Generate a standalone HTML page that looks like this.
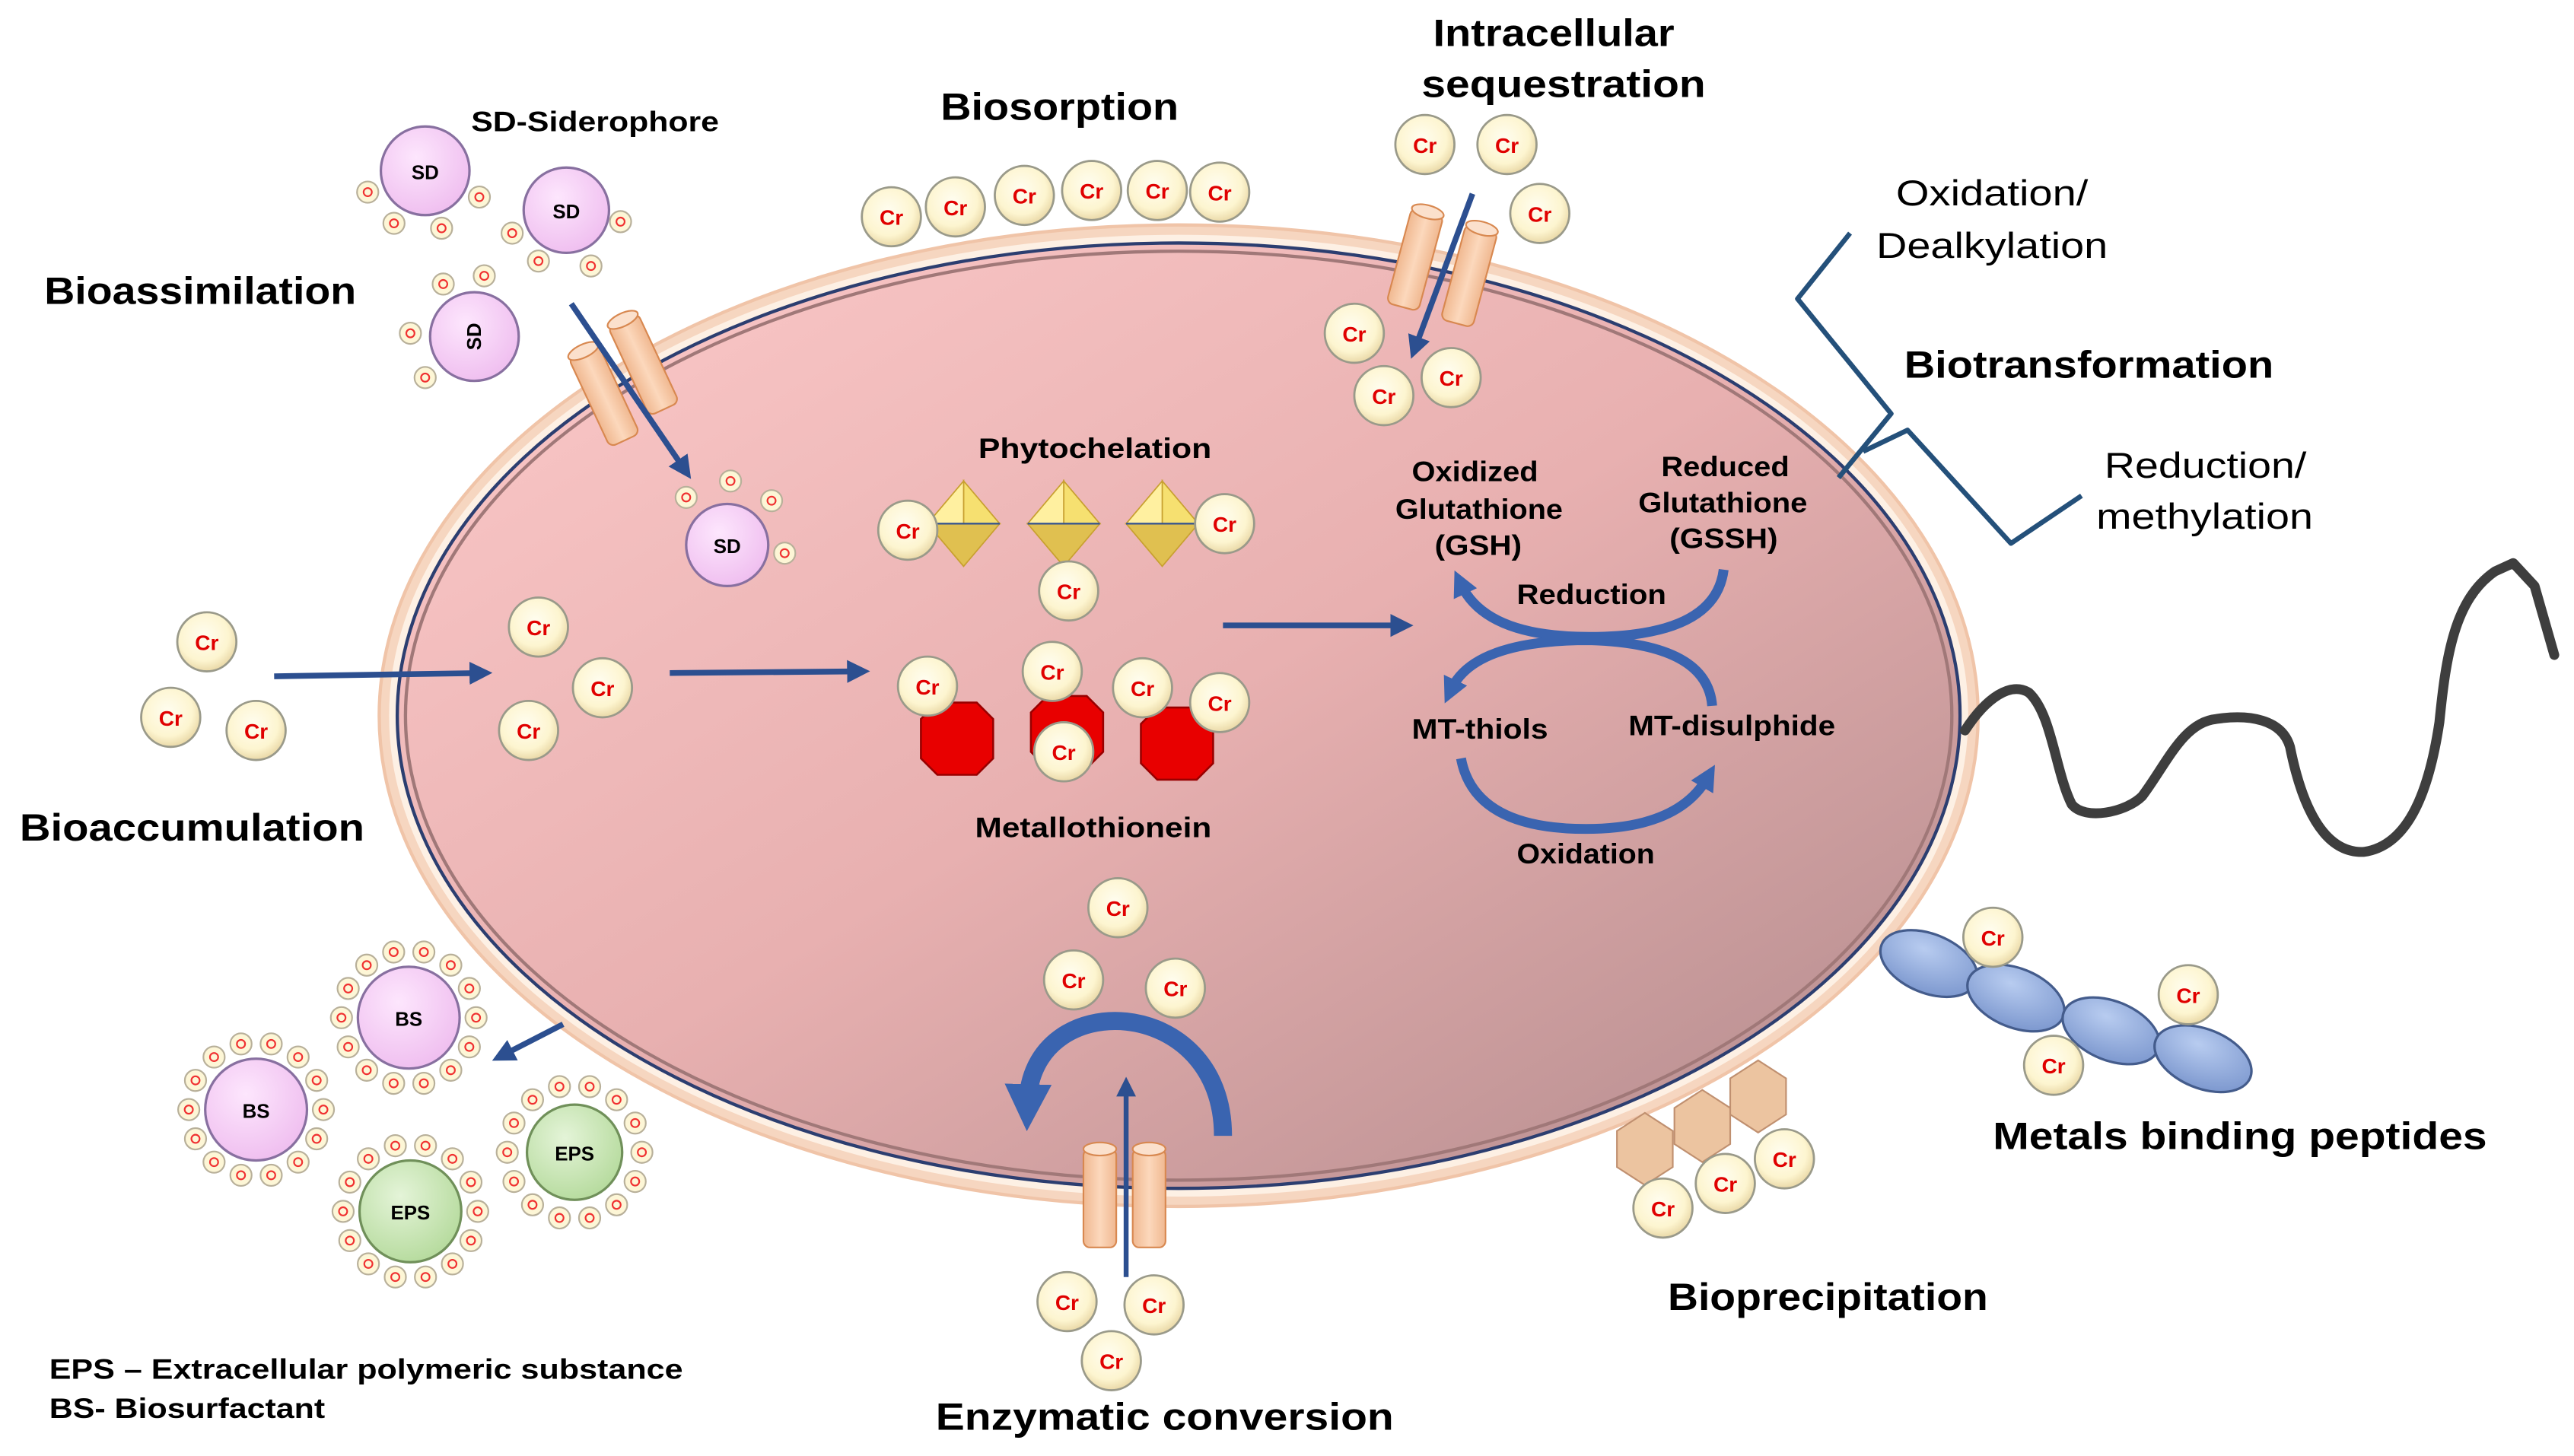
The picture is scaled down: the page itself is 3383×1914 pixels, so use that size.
<!DOCTYPE html>
<html><head><meta charset="utf-8"><style>
html,body{margin:0;padding:0;background:#fff;}
svg{display:block;}
text{font-family:"Liberation Sans",Arial,sans-serif;}
.L{font-weight:bold;font-size:23px;fill:#000;}
.M{font-weight:bold;font-size:17px;fill:#000;}
.N{font-size:22px;fill:#000;}
.ct{font-weight:bold;font-size:13px;fill:#e00000;text-anchor:middle;}
.c{fill:url(#coin);stroke:#9a9a8a;stroke-width:1.3;}
.st{font-weight:bold;font-size:12px;fill:#000;text-anchor:middle;}
</style></head><body>
<svg width="3383" height="1914" viewBox="0 0 1568 887" xmlns="http://www.w3.org/2000/svg">
<defs>
<radialGradient id="coin" cx="45%" cy="40%" r="60%"><stop offset="0" stop-color="#fffdf0"/><stop offset="0.7" stop-color="#fdf5d0"/><stop offset="1" stop-color="#ead9a8"/></radialGradient>
<linearGradient id="cell" x1="0" y1="0" x2="1" y2="1"><stop offset="0" stop-color="#fccaca"/><stop offset="0.5" stop-color="#e8b0b0"/><stop offset="1" stop-color="#b08a8c"/></linearGradient>
<radialGradient id="sd" cx="40%" cy="35%" r="65%"><stop offset="0" stop-color="#fde6fd"/><stop offset="1" stop-color="#f0c0f0"/></radialGradient>
<radialGradient id="eps" cx="40%" cy="35%" r="65%"><stop offset="0" stop-color="#e4f4d8"/><stop offset="1" stop-color="#b8dca0"/></radialGradient>
<linearGradient id="cyl" x1="0" x2="1"><stop offset="0" stop-color="#f0b890"/><stop offset="0.5" stop-color="#fcd8bc"/><stop offset="1" stop-color="#f0b890"/></linearGradient>
<radialGradient id="pep" cx="40%" cy="30%" r="70%"><stop offset="0" stop-color="#b8ccf0"/><stop offset="1" stop-color="#7f9ad0"/></radialGradient>
<marker id="ah" viewBox="0 0 10 10" refX="5" refY="5" markerWidth="4" markerHeight="4" orient="auto"><path d="M0,0 L10,5 L0,10 z" fill="#2c4f90"/></marker>
<marker id="ah2" viewBox="0 0 10 10" refX="4" refY="5" markerWidth="2.6" markerHeight="2.6" orient="auto"><path d="M0,0 L10,5 L0,10 z" fill="#3a64b0"/></marker>
<g id="dot"><circle r="6.5" fill="#fdf6d6" stroke="#b8b09a" stroke-width="1"/><circle r="2.5" fill="none" stroke="#f03030" stroke-width="1"/></g>
<g id="ring">
<use href="#dot" x="41" y="0"/><use href="#dot" x="36.9" y="17.8"/><use href="#dot" x="25.6" y="32"/><use href="#dot" x="9.2" y="40"/><use href="#dot" x="-9.2" y="40"/><use href="#dot" x="-25.6" y="32"/><use href="#dot" x="-36.9" y="17.8"/><use href="#dot" x="-41" y="0"/><use href="#dot" x="-36.9" y="-17.8"/><use href="#dot" x="-25.6" y="-32"/><use href="#dot" x="-9.2" y="-40"/><use href="#dot" x="9.2" y="-40"/><use href="#dot" x="25.6" y="-32"/><use href="#dot" x="36.9" y="-17.8"/>
</g>
<g id="cy"><rect x="-10" y="-30" width="20" height="60" rx="4" fill="url(#cyl)" stroke="#d88850" stroke-width="1"/><ellipse cx="0" cy="-30" rx="10" ry="4" fill="#fbe0cc" stroke="#d88850" stroke-width="1"/></g>
<g id="oct"><polygon points="0,-26 22,0 0,0" fill="#f6e070" stroke="#c8a030" stroke-width="0.8"/><polygon points="0,-26 -22,0 0,0" fill="#fff0a0" stroke="#c8a030" stroke-width="0.8"/><polygon points="0,26 22,0 -22,0" fill="#e0c050" stroke="#c8a030" stroke-width="0.8"/><line x1="-22" y1="0" x2="22" y2="0" stroke="#305090" stroke-width="1"/></g>
<g id="red"><polygon points="-12,-22 12,-22 22,-12 22,12 12,22 -12,22 -22,12 -22,-12" fill="#e80000" stroke="#900" stroke-width="1.2"/></g>
<g id="hex"><polygon points="0,-22 17,-11 17,11 0,22 -17,11 -17,-11" fill="#ecc4a0" stroke="#c09070" stroke-width="1"/></g>
<g id="pp"><ellipse rx="31" ry="18" fill="url(#pep)" stroke="#445c8c" stroke-width="1.5"/></g>
</defs>

<!-- cell -->
<ellipse cx="718" cy="436" rx="487" ry="299" fill="#f6d6c0" stroke="#f0c4a8" stroke-width="2"/>
<ellipse cx="718" cy="436" rx="481" ry="293" fill="#fdf0e4"/>
<ellipse cx="718" cy="436" rx="476" ry="288" fill="url(#cell)" stroke="#2c3e70" stroke-width="2"/>
<ellipse cx="718" cy="436" rx="471" ry="283" fill="none" stroke="#a07878" stroke-width="2"/>

<!-- labels -->
<text class="L" x="27" y="185" textLength="190" lengthAdjust="spacingAndGlyphs">Bioassimilation</text>
<text class="L" x="12" y="512" textLength="210" lengthAdjust="spacingAndGlyphs">Bioaccumulation</text>
<text class="L" x="573" y="73" textLength="145" lengthAdjust="spacingAndGlyphs">Biosorption</text>
<text class="L" x="873" y="28" textLength="147" lengthAdjust="spacingAndGlyphs">Intracellular</text>
<text class="L" x="866" y="59" textLength="173" lengthAdjust="spacingAndGlyphs">sequestration</text>
<text class="L" x="1160" y="230" textLength="225" lengthAdjust="spacingAndGlyphs">Biotransformation</text>
<text class="L" x="1214" y="700" textLength="301" lengthAdjust="spacingAndGlyphs">Metals binding peptides</text>
<text class="L" x="1016" y="798" textLength="195" lengthAdjust="spacingAndGlyphs">Bioprecipitation</text>
<text class="L" x="570" y="871" textLength="279" lengthAdjust="spacingAndGlyphs">Enzymatic conversion</text>
<text class="M" x="287" y="80" textLength="151" lengthAdjust="spacingAndGlyphs">SD-Siderophore</text>
<text class="M" x="596" y="279" textLength="142" lengthAdjust="spacingAndGlyphs">Phytochelation</text>
<text class="M" x="594" y="510" textLength="144" lengthAdjust="spacingAndGlyphs">Metallothionein</text>
<text class="N" x="1155" y="125" textLength="117" lengthAdjust="spacingAndGlyphs">Oxidation/</text>
<text class="N" x="1143" y="157" textLength="141" lengthAdjust="spacingAndGlyphs">Dealkylation</text>
<text class="N" x="1282" y="291" textLength="123" lengthAdjust="spacingAndGlyphs">Reduction/</text>
<text class="N" x="1277" y="322" textLength="132" lengthAdjust="spacingAndGlyphs">methylation</text>
<text class="M" x="30" y="840" textLength="386" lengthAdjust="spacingAndGlyphs">EPS – Extracellular polymeric substance</text>
<text class="M" x="30" y="864" textLength="168" lengthAdjust="spacingAndGlyphs">BS- Biosurfactant</text>
<text class="M" x="860" y="293" textLength="77" lengthAdjust="spacingAndGlyphs">Oxidized</text>
<text class="M" x="850" y="316" textLength="102" lengthAdjust="spacingAndGlyphs">Glutathione</text>
<text class="M" x="874" y="338" textLength="53" lengthAdjust="spacingAndGlyphs">(GSH)</text>
<text class="M" x="1012" y="290" textLength="78" lengthAdjust="spacingAndGlyphs">Reduced</text>
<text class="M" x="998" y="312" textLength="103" lengthAdjust="spacingAndGlyphs">Glutathione</text>
<text class="M" x="1017" y="334" textLength="66" lengthAdjust="spacingAndGlyphs">(GSSH)</text>
<text class="M" x="924" y="368" textLength="91" lengthAdjust="spacingAndGlyphs">Reduction</text>
<text class="M" x="860" y="450" textLength="83" lengthAdjust="spacingAndGlyphs">MT-thiols</text>
<text class="M" x="992" y="448" textLength="126" lengthAdjust="spacingAndGlyphs">MT-disulphide</text>
<text class="M" x="924" y="526" textLength="84" lengthAdjust="spacingAndGlyphs">Oxidation</text>

<!-- bracket -->
<g fill="none" stroke="#24507a" stroke-width="3" stroke-linejoin="round">
<polyline points="1127,142 1095,182 1152,252 1120,291"/>
<polyline points="1135,275 1162,262 1225,331 1268,302"/>
</g>
<!-- flagellum -->
<path d="M1197,445 C1210,425 1225,415 1236,422 C1250,435 1252,470 1262,490 C1270,500 1295,495 1305,485 C1320,465 1330,440 1350,438 C1370,435 1390,438 1395,455 C1402,490 1415,520 1440,519 C1468,515 1480,480 1486,440 C1490,400 1495,365 1520,348 L1531,343 L1544,357 L1556,399" fill="none" stroke="#3e3e3e" stroke-width="6" stroke-linecap="round" stroke-linejoin="round"/>

<!-- SD -->
<use href="#dot" x="224" y="117"/><use href="#dot" x="240" y="136"/><use href="#dot" x="269" y="139"/><use href="#dot" x="292" y="120"/>
<circle cx="259" cy="104" r="27" fill="url(#sd)" stroke="#8870a0" stroke-width="1.5"/><text class="st" x="259" y="109">SD</text>
<use href="#dot" x="312" y="142"/><use href="#dot" x="328" y="159"/><use href="#dot" x="360" y="162"/><use href="#dot" x="378" y="135"/>
<circle cx="345" cy="128" r="26" fill="url(#sd)" stroke="#8870a0" stroke-width="1.5"/><text class="st" x="345" y="133">SD</text>
<use href="#dot" x="270" y="173"/><use href="#dot" x="295" y="168"/><use href="#dot" x="250" y="203"/><use href="#dot" x="259" y="230"/>
<circle cx="289" cy="205" r="27" fill="url(#sd)" stroke="#8870a0" stroke-width="1.5"/><text class="st" x="0" y="0" transform="translate(293,205) rotate(-90)">SD</text>
<use href="#dot" x="418" y="303"/><use href="#dot" x="445" y="293"/><use href="#dot" x="470" y="305"/><use href="#dot" x="478" y="337"/>
<circle cx="443" cy="332" r="25" fill="url(#sd)" stroke="#8870a0" stroke-width="1.5"/><text class="st" x="443" y="337">SD</text>

<!-- channels -->
<use href="#cy" transform="translate(368,241) rotate(-25)"/>
<use href="#cy" transform="translate(392,222) rotate(-25)"/>
<line x1="348" y1="185" x2="417" y2="286" stroke="#2c4f90" stroke-width="3.5" marker-end="url(#ah)"/>
<use href="#cy" transform="translate(862,158) rotate(15)"/>
<use href="#cy" transform="translate(895,168) rotate(15)"/>
<line x1="897" y1="118" x2="862" y2="212" stroke="#2c4f90" stroke-width="3.5" marker-end="url(#ah)"/>
<use href="#cy" transform="translate(670,730)"/>
<use href="#cy" transform="translate(700,730)"/>
<line x1="686" y1="778" x2="686" y2="662" stroke="#2c4f90" stroke-width="3" marker-end="url(#ah)"/>

<!-- arrows -->
<line x1="167" y1="412" x2="293" y2="410" stroke="#2c4f90" stroke-width="3.5" marker-end="url(#ah)"/>
<line x1="408" y1="410" x2="523" y2="409" stroke="#2c4f90" stroke-width="3.5" marker-end="url(#ah)"/>
<line x1="745" y1="381" x2="854" y2="381" stroke="#2c4f90" stroke-width="3.5" marker-end="url(#ah)"/>
<line x1="343" y1="624" x2="306" y2="643" stroke="#2c4f90" stroke-width="3.5" marker-end="url(#ah)"/>

<!-- glutathione cycle arrows -->
<g fill="none" stroke="#3a64b0" stroke-width="6">
<path d="M1050,347 Q1045,388 968,388 Q905,388 890,356" marker-end="url(#ah2)"/>
<path d="M1043,430 Q1040,392 968,390 Q898,390 884,420" marker-end="url(#ah2)"/>
<path d="M890,462 Q898,505 966,505 Q1022,505 1040,474" marker-end="url(#ah2)"/>
<path d="M745,692 C745,605 628,600 626,672" stroke-width="11" marker-end="url(#ah2)"/>
</g>

<!-- phytochelation -->
<use href="#oct" x="587" y="319"/><use href="#oct" x="648" y="319"/><use href="#oct" x="708" y="319"/>
<!-- metallothionein -->
<use href="#red" x="583" y="450"/><use href="#red" x="650" y="446"/><use href="#red" x="717" y="453"/>
<!-- hexagons -->
<use href="#hex" x="1002" y="700"/><use href="#hex" x="1037" y="686"/><use href="#hex" x="1071" y="668"/>
<!-- peptides -->
<use href="#pp" transform="translate(1175,587) rotate(22)"/><use href="#pp" transform="translate(1228,608) rotate(22)"/><use href="#pp" transform="translate(1286,628) rotate(22)"/><use href="#pp" transform="translate(1342,645) rotate(22)"/>

<!-- BS / EPS -->
<use href="#ring" x="249" y="620"/><circle cx="249" cy="620" r="31" fill="url(#sd)" stroke="#8870a0" stroke-width="1.5"/><text class="st" x="249" y="625">BS</text>
<use href="#ring" x="156" y="676"/><circle cx="156" cy="676" r="31" fill="url(#sd)" stroke="#8870a0" stroke-width="1.5"/><text class="st" x="156" y="681">BS</text>
<use href="#ring" x="350" y="702"/><circle cx="350" cy="702" r="29" fill="url(#eps)" stroke="#70905a" stroke-width="1.5"/><text class="st" x="350" y="707">EPS</text>
<use href="#ring" x="250" y="738"/><circle cx="250" cy="738" r="31" fill="url(#eps)" stroke="#70905a" stroke-width="1.5"/><text class="st" x="250" y="743">EPS</text>

<!-- Cr coins -->
<g><circle class="c" cx="543" cy="132" r="18"/><text class="ct" x="543" y="137">Cr</text></g>
<g><circle class="c" cx="582" cy="126" r="18"/><text class="ct" x="582" y="131">Cr</text></g>
<g><circle class="c" cx="624" cy="119" r="18"/><text class="ct" x="624" y="124">Cr</text></g>
<g><circle class="c" cx="665" cy="116" r="18"/><text class="ct" x="665" y="121">Cr</text></g>
<g><circle class="c" cx="705" cy="116" r="18"/><text class="ct" x="705" y="121">Cr</text></g>
<g><circle class="c" cx="743" cy="117" r="18"/><text class="ct" x="743" y="122">Cr</text></g>
<g><circle class="c" cx="868" cy="88" r="18"/><text class="ct" x="868" y="93">Cr</text></g>
<g><circle class="c" cx="918" cy="88" r="18"/><text class="ct" x="918" y="93">Cr</text></g>
<g><circle class="c" cx="938" cy="130" r="18"/><text class="ct" x="938" y="135">Cr</text></g>
<g><circle class="c" cx="825" cy="203" r="18"/><text class="ct" x="825" y="208">Cr</text></g>
<g><circle class="c" cx="884" cy="230" r="18"/><text class="ct" x="884" y="235">Cr</text></g>
<g><circle class="c" cx="843" cy="241" r="18"/><text class="ct" x="843" y="246">Cr</text></g>
<g><circle class="c" cx="126" cy="391" r="18"/><text class="ct" x="126" y="396">Cr</text></g>
<g><circle class="c" cx="104" cy="437" r="18"/><text class="ct" x="104" y="442">Cr</text></g>
<g><circle class="c" cx="156" cy="445" r="18"/><text class="ct" x="156" y="450">Cr</text></g>
<g><circle class="c" cx="328" cy="382" r="18"/><text class="ct" x="328" y="387">Cr</text></g>
<g><circle class="c" cx="367" cy="419" r="18"/><text class="ct" x="367" y="424">Cr</text></g>
<g><circle class="c" cx="322" cy="445" r="18"/><text class="ct" x="322" y="450">Cr</text></g>
<g><circle class="c" cx="553" cy="323" r="18"/><text class="ct" x="553" y="328">Cr</text></g>
<g><circle class="c" cx="746" cy="319" r="18"/><text class="ct" x="746" y="324">Cr</text></g>
<g><circle class="c" cx="651" cy="360" r="18"/><text class="ct" x="651" y="365">Cr</text></g>
<g><circle class="c" cx="565" cy="418" r="18"/><text class="ct" x="565" y="423">Cr</text></g>
<g><circle class="c" cx="641" cy="409" r="18"/><text class="ct" x="641" y="414">Cr</text></g>
<g><circle class="c" cx="696" cy="419" r="18"/><text class="ct" x="696" y="424">Cr</text></g>
<g><circle class="c" cx="743" cy="428" r="18"/><text class="ct" x="743" y="433">Cr</text></g>
<g><circle class="c" cx="648" cy="458" r="18"/><text class="ct" x="648" y="463">Cr</text></g>
<g><circle class="c" cx="681" cy="553" r="18"/><text class="ct" x="681" y="558">Cr</text></g>
<g><circle class="c" cx="654" cy="597" r="18"/><text class="ct" x="654" y="602">Cr</text></g>
<g><circle class="c" cx="716" cy="602" r="18"/><text class="ct" x="716" y="607">Cr</text></g>
<g><circle class="c" cx="650" cy="793" r="18"/><text class="ct" x="650" y="798">Cr</text></g>
<g><circle class="c" cx="703" cy="795" r="18"/><text class="ct" x="703" y="800">Cr</text></g>
<g><circle class="c" cx="677" cy="829" r="18"/><text class="ct" x="677" y="834">Cr</text></g>
<g><circle class="c" cx="1013" cy="736" r="18"/><text class="ct" x="1013" y="741">Cr</text></g>
<g><circle class="c" cx="1051" cy="721" r="18"/><text class="ct" x="1051" y="726">Cr</text></g>
<g><circle class="c" cx="1087" cy="706" r="18"/><text class="ct" x="1087" y="711">Cr</text></g>
<g><circle class="c" cx="1214" cy="571" r="18"/><text class="ct" x="1214" y="576">Cr</text></g>
<g><circle class="c" cx="1333" cy="606" r="18"/><text class="ct" x="1333" y="611">Cr</text></g>
<g><circle class="c" cx="1251" cy="649" r="18"/><text class="ct" x="1251" y="654">Cr</text></g>
</svg>
</body></html>
